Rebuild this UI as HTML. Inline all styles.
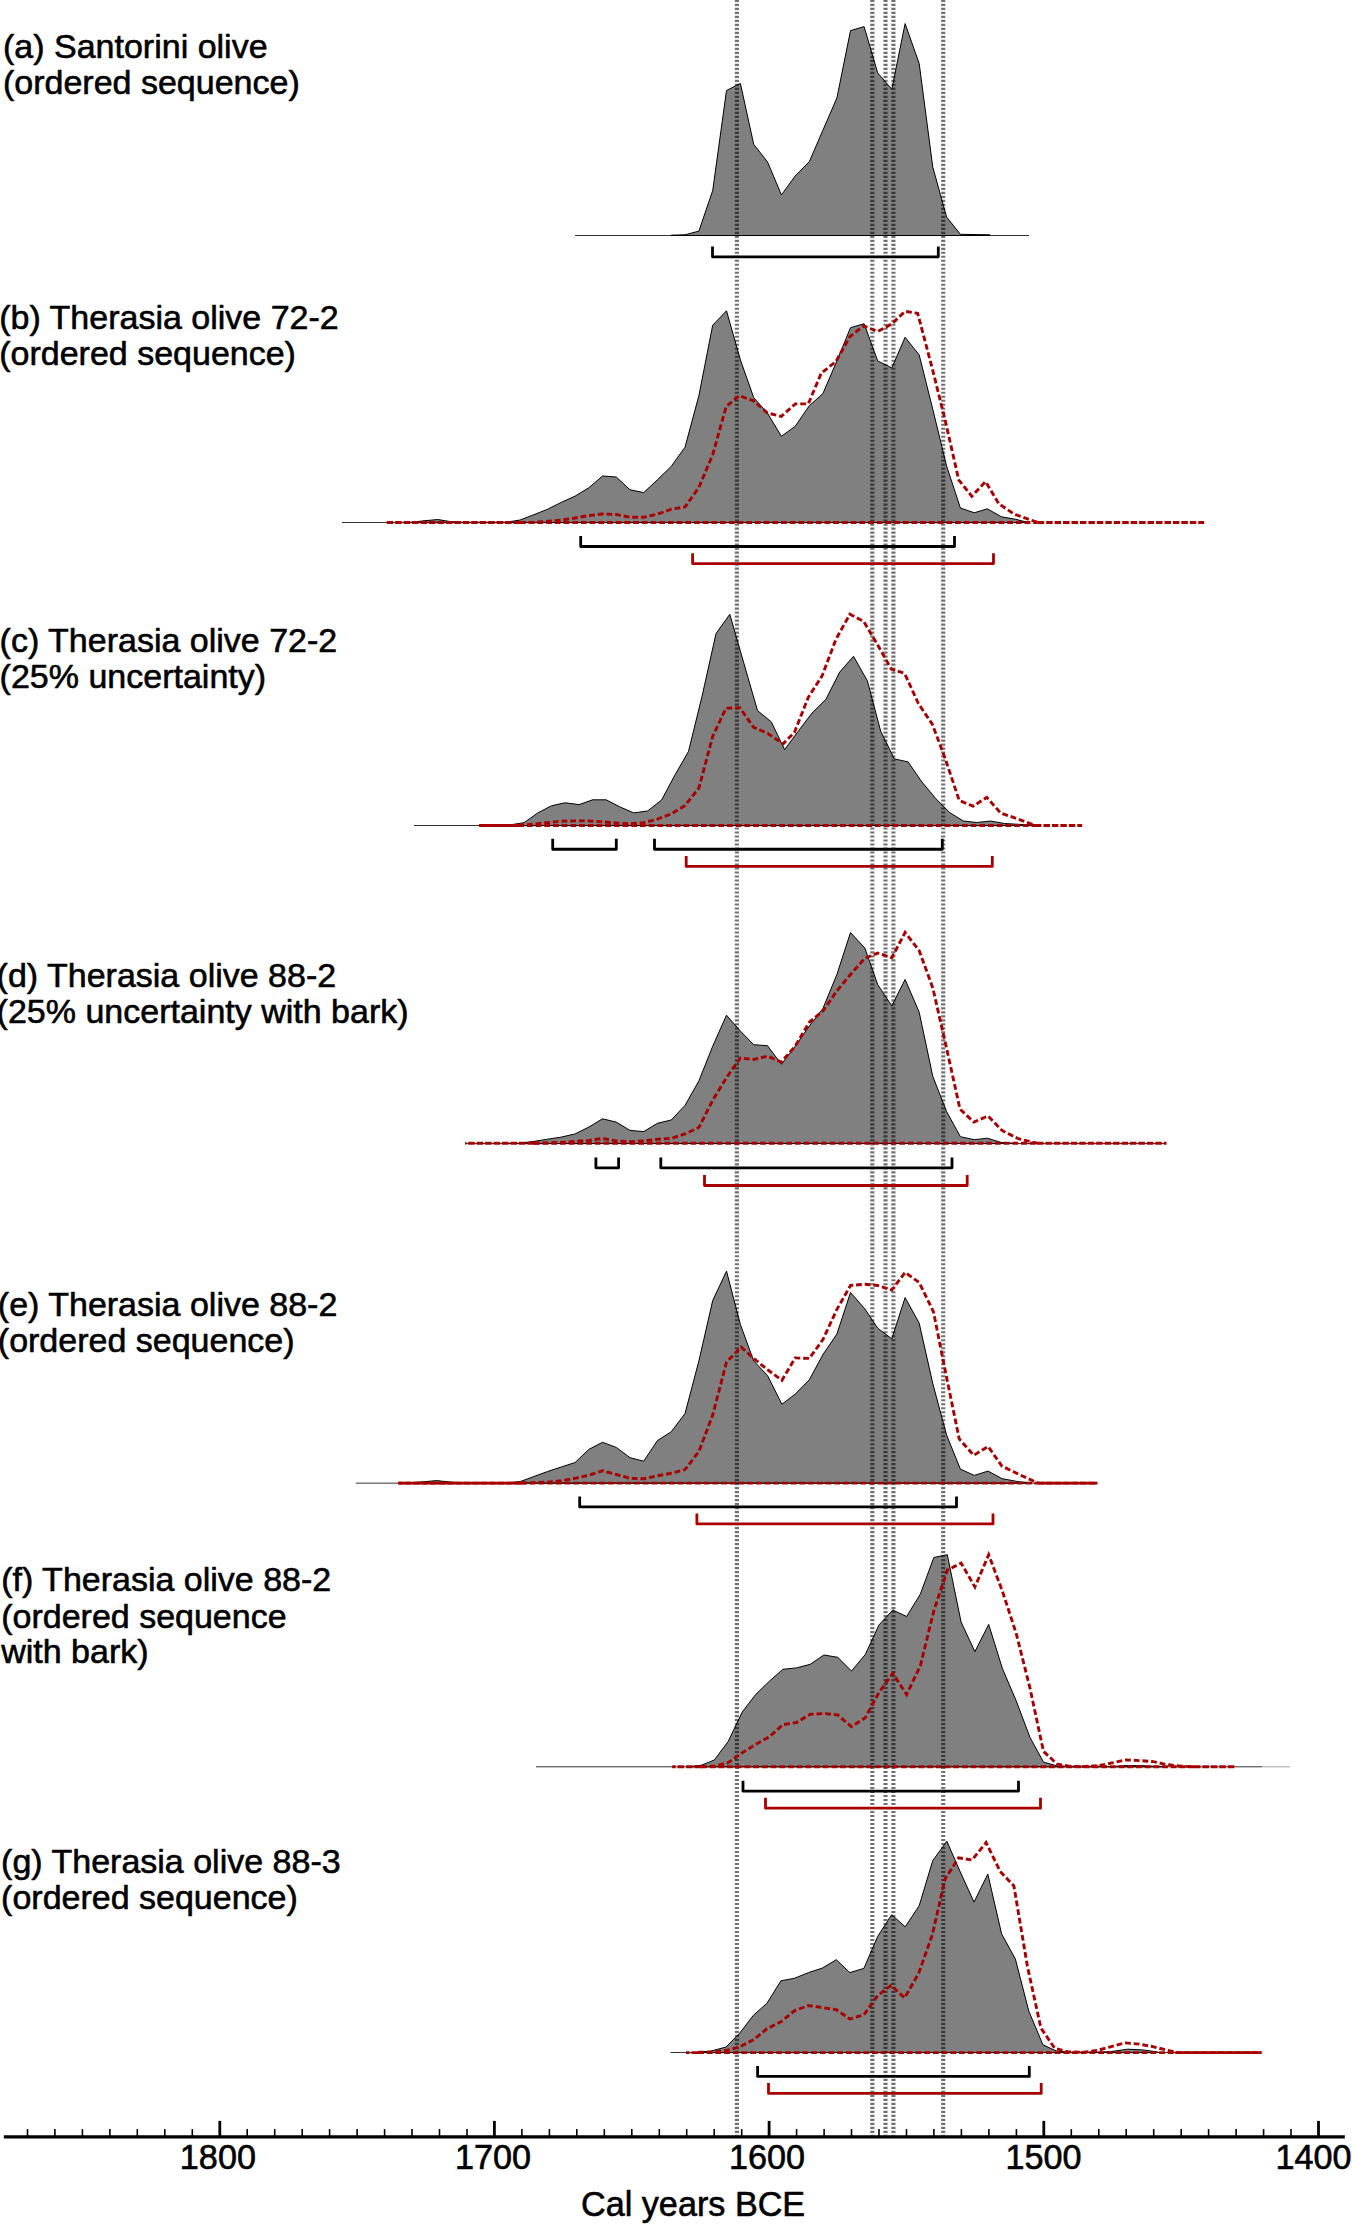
<!DOCTYPE html>
<html lang="en"><head><meta charset="utf-8"><title>Calibrated date ranges</title>
<style>html,body{margin:0;padding:0;background:#fff}body{width:1352px;height:2224px;overflow:hidden}svg{display:block}</style>
</head><body>
<svg width="1352" height="2224" viewBox="0 0 1352 2224">
<rect width="1352" height="2224" fill="#fff"/>
<polygon points="671.2,235.5 671.2,235.2 685.0,234.8 698.9,231.1 712.7,190.6 726.5,90.5 740.4,83.4 753.7,144.3 767.5,161.9 781.4,194.9 795.2,176.0 809.3,161.7 822.9,130.2 836.9,98.0 850.5,30.6 864.1,26.6 877.7,72.9 891.8,89.2 905.1,23.6 919.2,63.6 932.8,167.2 946.6,217.0 960.4,234.3 990.0,234.8 990.0,235.5" fill="#808080" stroke="#000" stroke-width="1" stroke-linejoin="miter"/>
<line x1="575" y1="235.5" x2="1029" y2="235.5" stroke="#000" stroke-width="0.8"/>
<polyline points="712.5,246.40 712.5,256.80 938.3,256.80 938.3,246.40" fill="none" stroke="#000" stroke-width="2.8" stroke-linejoin="round"/>
<polygon points="410.0,522.5 410.0,522.4 424.0,520.8 437.8,519.5 451.5,521.8 465.0,522.4 506.4,522.2 520.1,520.0 533.9,514.7 547.6,509.2 561.3,502.4 575.1,496.1 588.8,487.8 602.5,476.0 616.3,477.0 630.0,489.8 643.7,492.6 657.4,479.8 671.2,466.4 685.0,447.2 698.9,395.6 712.7,325.2 726.5,310.8 740.4,359.9 753.7,397.6 767.5,413.2 781.4,436.3 795.2,426.3 809.3,405.7 822.9,393.6 836.9,360.9 850.5,327.7 864.1,323.7 877.7,360.9 891.8,367.9 905.1,337.3 919.2,354.9 932.8,409.4 946.6,466.0 960.4,508.0 974.3,512.8 987.3,508.8 1001.4,516.8 1015.8,519.3 1027.0,522.2 1027.0,522.5" fill="#808080" stroke="#000" stroke-width="1" stroke-linejoin="miter"/>
<line x1="342" y1="522.5" x2="1029" y2="522.5" stroke="#000" stroke-width="0.8"/>
<polyline points="580.7,536.10 580.7,546.50 954.5,546.50 954.5,536.10" fill="none" stroke="#000" stroke-width="2.8" stroke-linejoin="round"/>
<polygon points="500.0,825.5 500.0,825.3 509.9,824.9 524.0,822.7 537.8,812.9 551.4,805.8 565.0,802.8 579.1,804.6 592.7,799.8 606.2,799.8 620.3,807.1 633.9,812.9 647.7,810.9 661.6,800.0 674.6,775.6 688.5,751.4 702.1,696.0 716.0,633.6 729.8,614.3 743.6,662.3 757.5,710.6 771.3,721.9 784.6,749.6 798.2,731.2 812.0,713.1 825.9,699.3 839.7,672.1 853.5,656.3 867.4,680.9 880.7,731.2 894.3,758.9 908.1,761.9 921.9,782.0 935.8,798.6 949.6,812.5 963.4,821.0 976.8,822.5 990.6,821.0 1004.4,823.5 1018.3,824.3 1035.0,825.2 1035.0,825.5" fill="#808080" stroke="#000" stroke-width="1" stroke-linejoin="miter"/>
<line x1="414" y1="825.5" x2="1040" y2="825.5" stroke="#000" stroke-width="0.8"/>
<polyline points="552.7,838.87 552.7,849.27 616.3,849.27 616.3,838.87" fill="none" stroke="#000" stroke-width="2.8" stroke-linejoin="round"/>
<polyline points="654.5,838.87 654.5,849.27 942.3,849.27 942.3,838.87" fill="none" stroke="#000" stroke-width="2.8" stroke-linejoin="round"/>
<polygon points="506.0,1143.5 506.0,1143.4 520.1,1143.2 533.9,1141.4 547.6,1139.2 561.3,1137.1 575.1,1133.9 588.8,1127.1 602.5,1118.8 616.3,1122.1 630.0,1130.4 643.7,1131.6 657.4,1123.3 671.2,1120.0 685.0,1105.4 698.9,1080.9 712.7,1046.2 726.5,1015.2 740.4,1031.1 753.7,1044.7 767.5,1045.7 781.4,1064.3 795.2,1046.2 809.3,1026.1 822.9,1008.5 836.9,974.5 850.5,932.5 864.9,948.1 877.7,984.6 891.8,1005.9 905.1,979.5 919.2,1012.2 932.8,1076.4 946.6,1111.6 960.4,1136.7 974.3,1139.7 987.3,1138.2 1001.4,1142.5 1015.0,1143.3 1015.0,1143.5" fill="#808080" stroke="#000" stroke-width="1" stroke-linejoin="miter"/>
<line x1="465.2" y1="1143.5" x2="1166" y2="1143.5" stroke="#000" stroke-width="0.8"/>
<polyline points="595.9,1157.45 595.9,1167.85 618.6,1167.85 618.6,1157.45" fill="none" stroke="#000" stroke-width="2.8" stroke-linejoin="round"/>
<polyline points="660.8,1157.45 660.8,1167.85 952.0,1167.85 952.0,1157.45" fill="none" stroke="#000" stroke-width="2.8" stroke-linejoin="round"/>
<polygon points="410.0,1483.2 410.0,1482.9 423.0,1481.8 436.8,1480.6 450.5,1482.1 464.0,1482.9 506.4,1482.9 520.1,1481.6 533.9,1476.5 547.6,1471.5 561.3,1467.0 575.1,1462.5 588.8,1449.4 602.5,1442.3 616.3,1447.4 630.0,1457.7 643.7,1461.2 657.4,1440.6 671.2,1431.8 685.0,1413.6 698.9,1360.9 712.7,1300.6 726.5,1271.1 740.4,1324.5 753.7,1360.9 767.5,1375.5 781.9,1404.2 795.2,1394.1 809.3,1379.8 822.9,1354.6 836.9,1334.0 850.5,1292.5 864.9,1308.9 877.7,1328.2 891.8,1338.8 905.1,1297.6 919.2,1323.2 932.8,1383.6 946.6,1435.1 960.4,1469.1 974.3,1475.4 988.1,1471.1 1001.9,1478.6 1018.3,1481.7 1032.0,1482.9 1032.0,1483.2" fill="#808080" stroke="#000" stroke-width="1" stroke-linejoin="miter"/>
<line x1="355.7" y1="1483.15" x2="1040" y2="1483.15" stroke="#000" stroke-width="0.8"/>
<polyline points="579.7,1496.55 579.7,1506.95 956.5,1506.95 956.5,1496.55" fill="none" stroke="#000" stroke-width="2.8" stroke-linejoin="round"/>
<polygon points="690.0,1766.8 690.0,1766.6 701.4,1765.2 714.3,1760.0 728.1,1741.6 742.2,1712.1 755.7,1694.4 769.4,1681.2 782.9,1669.3 796.4,1667.9 810.2,1664.3 823.9,1655.0 837.7,1657.3 851.5,1671.0 865.3,1654.5 879.0,1624.9 892.8,1610.0 906.6,1616.5 920.4,1594.0 933.8,1557.5 947.3,1554.7 961.1,1622.1 974.9,1651.6 988.7,1624.4 1002.4,1668.5 1016.2,1700.8 1030.0,1737.4 1043.5,1762.1 1057.2,1766.0 1071.0,1766.6 1112.0,1766.5 1126.0,1765.6 1140.0,1765.6 1154.0,1766.3 1167.0,1766.6 1167.0,1766.8" fill="#808080" stroke="#000" stroke-width="1" stroke-linejoin="miter"/>
<line x1="536.0" y1="1766.8" x2="1262" y2="1766.8" stroke="#000" stroke-width="0.8"/>
<line x1="1262" y1="1766.8" x2="1290" y2="1766.8" stroke="#000" stroke-opacity="0.45" stroke-width="0.8"/>
<polyline points="743.0,1780.67 743.0,1791.07 1018.5,1791.07 1018.5,1780.67" fill="none" stroke="#000" stroke-width="2.8" stroke-linejoin="round"/>
<polygon points="698.0,2052.5 698.0,2052.2 711.2,2051.0 725.9,2047.1 739.3,2033.6 753.4,2015.3 766.9,2003.3 780.9,1980.8 794.7,1978.2 808.5,1972.6 822.3,1968.1 836.3,1959.7 849.8,1972.6 863.9,1968.4 877.6,1936.6 891.7,1914.7 905.2,1926.8 919.2,1905.7 932.7,1860.8 946.8,1841.1 960.3,1872.0 974.0,1902.1 987.8,1874.0 1001.6,1933.8 1015.4,1959.1 1028.8,2011.1 1042.9,2044.8 1056.4,2051.0 1070.0,2052.2 1098.0,2052.2 1111.3,2051.5 1127.7,2049.2 1142.8,2049.9 1157.9,2052.0 1157.9,2052.5" fill="#808080" stroke="#000" stroke-width="1" stroke-linejoin="miter"/>
<line x1="670.4" y1="2052.5" x2="1200" y2="2052.5" stroke="#000" stroke-width="0.8"/>
<polyline points="757.6,2066.02 757.6,2076.42 1029.3,2076.42 1029.3,2066.02" fill="none" stroke="#000" stroke-width="2.8" stroke-linejoin="round"/>
<line x1="736.9" y1="-0.15" x2="736.9" y2="2135.5" stroke="#000" stroke-opacity="0.56" stroke-width="4.15" stroke-dasharray="2.15 1.848"/>
<line x1="872.3" y1="-0.15" x2="872.3" y2="2135.5" stroke="#000" stroke-opacity="0.56" stroke-width="4.15" stroke-dasharray="2.15 1.848"/>
<line x1="885.5" y1="-0.15" x2="885.5" y2="2135.5" stroke="#000" stroke-opacity="0.56" stroke-width="4.15" stroke-dasharray="2.15 1.848"/>
<line x1="893.4" y1="-0.15" x2="893.4" y2="2135.5" stroke="#000" stroke-opacity="0.56" stroke-width="4.15" stroke-dasharray="2.15 1.848"/>
<line x1="943.2" y1="-0.15" x2="943.2" y2="2135.5" stroke="#000" stroke-opacity="0.56" stroke-width="4.15" stroke-dasharray="2.15 1.848"/>
<polyline points="520.0,522.5 533.9,522.3 547.6,521.3 561.3,520.0 575.1,518.0 588.8,515.5 602.5,514.0 616.3,514.5 630.0,517.2 643.7,517.2 657.4,514.2 671.2,509.2 685.0,507.0 698.9,487.4 712.7,454.7 726.2,406.5 739.4,395.7 753.2,400.6 767.3,412.9 781.2,416.5 795.3,403.9 808.3,403.9 821.3,373.1 835.9,361.6 850.0,336.5 863.5,325.9 877.7,331.5 891.8,323.9 905.1,311.3 917.7,313.4 932.8,370.5 945.3,420.8 958.7,479.9 971.8,496.2 985.6,481.6 998.9,503.8 1014.5,514.3 1037.7,522.4" fill="none" stroke="#a80000" stroke-width="2.9" stroke-dasharray="5.8 2.9" stroke-linejoin="miter"/>
<line x1="520" y1="522.5" x2="1037.7" y2="522.5" stroke="#a80000" stroke-width="2.9" stroke-dasharray="5.8 2.9"/>
<line x1="520" y1="522.5" x2="384.8" y2="522.5" stroke="#a80000" stroke-width="2.9" stroke-dasharray="6.5 1.95"/>
<line x1="1037.7" y1="522.5" x2="1204.2" y2="522.5" stroke="#a80000" stroke-width="2.9" stroke-dasharray="6.5 1.95"/>
<polyline points="692.6,553.15 692.6,563.55 993.5,563.55 993.5,553.15" fill="none" stroke="#a80000" stroke-width="2.8" stroke-linejoin="round"/>
<polyline points="518.2,825.2 532.8,824.2 546.6,822.7 560.5,821.2 574.3,820.9 588.1,820.9 602.0,821.7 615.8,822.9 629.6,823.9 643.5,822.7 657.3,819.2 671.1,813.9 685.0,805.6 698.9,788.0 712.7,736.4 726.0,708.1 739.9,707.8 753.7,727.4 767.5,733.2 783.1,743.8 794.4,732.5 808.3,697.3 822.1,675.9 835.9,639.4 849.8,614.3 863.6,621.3 877.4,644.4 891.3,669.1 904.6,673.4 918.4,703.6 932.3,724.2 945.3,758.9 959.2,800.4 973.0,806.2 986.8,797.4 1000.7,813.0 1018.3,819.2 1035.0,825.2" fill="none" stroke="#a80000" stroke-width="2.9" stroke-dasharray="5.8 2.9" stroke-linejoin="miter"/>
<line x1="518.2" y1="825.5" x2="1035" y2="825.5" stroke="#a80000" stroke-width="2.9" stroke-dasharray="5.8 2.9"/>
<line x1="518.2" y1="825.5" x2="479.2" y2="825.5" stroke="#a80000" stroke-width="2.9" stroke-dasharray="6.5 1.95"/>
<line x1="1035" y1="825.5" x2="1082.2" y2="825.5" stroke="#a80000" stroke-width="2.9" stroke-dasharray="6.5 1.95"/>
<line x1="479.2" y1="825.5" x2="518.2" y2="825.5" stroke="#a80000" stroke-width="2.9"/>
<polyline points="686.2,856.00 686.2,866.40 992.3,866.40 992.3,856.00" fill="none" stroke="#a80000" stroke-width="2.8" stroke-linejoin="round"/>
<polyline points="533.9,1143.2 547.6,1142.9 561.3,1142.4 575.1,1141.4 588.8,1140.4 602.5,1138.4 616.3,1140.9 630.0,1141.7 643.7,1140.9 657.4,1139.2 671.2,1138.4 685.0,1134.0 698.9,1127.5 712.7,1100.3 726.5,1077.6 740.4,1058.0 753.7,1059.5 767.5,1056.2 781.4,1062.0 795.2,1046.2 809.3,1022.3 822.9,1011.0 836.9,990.9 850.5,974.5 864.9,958.2 877.7,953.1 891.8,957.7 905.1,932.5 919.2,950.6 932.8,987.9 946.1,1046.2 960.0,1109.1 973.8,1122.1 988.1,1115.9 1001.9,1130.4 1018.3,1138.7 1037.0,1143.2" fill="none" stroke="#a80000" stroke-width="2.9" stroke-dasharray="5.8 2.9" stroke-linejoin="miter"/>
<line x1="533.9" y1="1143.2" x2="1037" y2="1143.2" stroke="#a80000" stroke-width="2.9" stroke-dasharray="5.8 2.9"/>
<line x1="533.9" y1="1143.2" x2="465.2" y2="1143.2" stroke="#a80000" stroke-width="2.9" stroke-dasharray="6.5 1.95"/>
<line x1="1037" y1="1143.2" x2="1166.5" y2="1143.2" stroke="#a80000" stroke-width="2.9" stroke-dasharray="6.5 1.95"/>
<polyline points="704.5,1175.10 704.5,1185.50 967.2,1185.50 967.2,1175.10" fill="none" stroke="#a80000" stroke-width="2.8" stroke-linejoin="round"/>
<polyline points="521.0,1483.0 533.9,1482.6 547.6,1482.1 561.3,1480.8 575.1,1478.3 588.8,1475.3 602.5,1470.8 616.3,1474.5 630.0,1478.3 643.7,1478.8 657.4,1475.8 671.2,1473.3 685.0,1469.6 698.9,1451.5 712.7,1415.0 726.5,1362.2 741.1,1347.1 753.7,1358.4 767.5,1369.7 781.9,1380.3 795.2,1357.9 809.3,1358.4 822.9,1339.6 836.9,1309.4 850.5,1285.5 864.9,1284.2 877.7,1285.5 891.8,1290.0 905.1,1272.4 919.2,1282.5 933.5,1311.9 945.3,1371.0 959.2,1438.9 973.8,1455.3 988.1,1446.5 1001.9,1466.1 1018.3,1474.1 1037.7,1482.9" fill="none" stroke="#a80000" stroke-width="2.9" stroke-dasharray="5.8 2.9" stroke-linejoin="miter"/>
<line x1="521" y1="1483.15" x2="1037.7" y2="1483.15" stroke="#a80000" stroke-width="2.9" stroke-dasharray="5.8 2.9"/>
<line x1="521" y1="1483.15" x2="398.3" y2="1483.15" stroke="#a80000" stroke-width="2.9" stroke-dasharray="6.5 1.95"/>
<line x1="1037.7" y1="1483.15" x2="1097.3" y2="1483.15" stroke="#a80000" stroke-width="2.9" stroke-dasharray="6.5 1.95"/>
<line x1="398.3" y1="1483.15" x2="521" y2="1483.15" stroke="#a80000" stroke-width="2.9"/>
<line x1="1037.7" y1="1483.15" x2="1097.3" y2="1483.15" stroke="#a80000" stroke-width="2.9"/>
<polyline points="696.9,1513.55 696.9,1523.95 993.0,1523.95 993.0,1513.55" fill="none" stroke="#a80000" stroke-width="2.8" stroke-linejoin="round"/>
<polyline points="701.0,1766.7 714.6,1766.0 728.1,1762.7 742.2,1752.8 755.7,1744.4 769.4,1736.8 782.9,1724.7 796.4,1722.5 810.2,1714.3 823.9,1713.5 837.7,1714.9 851.5,1726.7 865.3,1717.7 879.0,1692.4 892.8,1673.3 906.6,1694.6 920.4,1665.7 933.8,1610.9 947.3,1570.1 961.1,1563.1 974.9,1587.0 988.7,1554.7 1002.4,1591.2 1016.2,1633.4 1030.0,1688.2 1043.5,1751.4 1057.2,1764.1 1071.0,1766.4 1084.7,1766.4 1098.4,1765.7 1112.1,1762.9 1125.9,1759.9 1139.6,1760.6 1153.3,1761.6 1167.1,1764.7 1180.8,1766.2 1194.0,1766.7" fill="none" stroke="#a80000" stroke-width="2.9" stroke-dasharray="5.8 2.9" stroke-linejoin="miter"/>
<line x1="701" y1="1766.8" x2="1194" y2="1766.8" stroke="#a80000" stroke-width="2.9" stroke-dasharray="5.8 2.9"/>
<line x1="701" y1="1766.8" x2="672.2" y2="1766.8" stroke="#a80000" stroke-width="2.9" stroke-dasharray="6.5 1.95"/>
<line x1="1194" y1="1766.8" x2="1235.8" y2="1766.8" stroke="#a80000" stroke-width="2.9" stroke-dasharray="6.5 1.95"/>
<polyline points="765.5,1797.80 765.5,1808.20 1040.5,1808.20 1040.5,1797.80" fill="none" stroke="#a80000" stroke-width="2.8" stroke-linejoin="round"/>
<polyline points="698.0,2052.3 711.2,2052.0 725.9,2050.5 739.3,2047.1 753.4,2039.8 766.9,2028.8 780.9,2021.8 794.7,2010.6 808.5,2005.5 822.3,2007.5 836.3,2009.7 849.8,2019.0 863.9,2014.8 877.6,1995.7 891.1,1985.3 904.6,1997.9 918.7,1973.2 932.2,1935.2 945.1,1879.0 958.6,1857.9 972.1,1859.9 986.1,1842.5 1000.2,1871.4 1013.9,1886.0 1027.4,1966.2 1040.9,2028.0 1054.7,2048.2 1068.2,2051.9 1083.7,2052.2 1097.5,2050.4 1111.3,2046.6 1125.2,2042.9 1139.0,2044.1 1152.8,2046.6 1167.9,2050.4 1175.5,2052.3" fill="none" stroke="#a80000" stroke-width="2.9" stroke-dasharray="5.8 2.9" stroke-linejoin="miter"/>
<line x1="698" y1="2052.6" x2="1175.5" y2="2052.6" stroke="#a80000" stroke-width="2.9" stroke-dasharray="5.8 2.9"/>
<line x1="698" y1="2052.6" x2="686.0" y2="2052.6" stroke="#a80000" stroke-width="2.9" stroke-dasharray="6.5 1.95"/>
<line x1="1175.5" y1="2052.6" x2="1261.5" y2="2052.6" stroke="#a80000" stroke-width="2.9" stroke-dasharray="6.5 1.95"/>
<line x1="1175.5" y1="2052.6" x2="1261.5" y2="2052.6" stroke="#a80000" stroke-width="2.9"/>
<polyline points="768.5,2083.00 768.5,2093.40 1041.2,2093.40 1041.2,2083.00" fill="none" stroke="#a80000" stroke-width="2.8" stroke-linejoin="round"/>
<line x1="3.8" y1="2136.85" x2="1344.8" y2="2136.85" stroke="#000" stroke-width="3.3"/>
<line x1="27.5" y1="2129.1" x2="27.5" y2="2136.85" stroke="#000" stroke-width="1.6"/>
<line x1="54.9" y1="2129.1" x2="54.9" y2="2136.85" stroke="#000" stroke-width="1.6"/>
<line x1="82.4" y1="2129.1" x2="82.4" y2="2136.85" stroke="#000" stroke-width="1.6"/>
<line x1="109.9" y1="2129.1" x2="109.9" y2="2136.85" stroke="#000" stroke-width="1.6"/>
<line x1="137.3" y1="2129.1" x2="137.3" y2="2136.85" stroke="#000" stroke-width="1.6"/>
<line x1="164.8" y1="2129.1" x2="164.8" y2="2136.85" stroke="#000" stroke-width="1.6"/>
<line x1="192.3" y1="2129.1" x2="192.3" y2="2136.85" stroke="#000" stroke-width="1.6"/>
<line x1="219.8" y1="2120.9" x2="219.8" y2="2136.85" stroke="#000" stroke-width="2.8"/>
<line x1="247.2" y1="2129.1" x2="247.2" y2="2136.85" stroke="#000" stroke-width="1.6"/>
<line x1="274.7" y1="2129.1" x2="274.7" y2="2136.85" stroke="#000" stroke-width="1.6"/>
<line x1="302.2" y1="2129.1" x2="302.2" y2="2136.85" stroke="#000" stroke-width="1.6"/>
<line x1="329.6" y1="2129.1" x2="329.6" y2="2136.85" stroke="#000" stroke-width="1.6"/>
<line x1="357.1" y1="2129.1" x2="357.1" y2="2136.85" stroke="#000" stroke-width="1.6"/>
<line x1="384.6" y1="2129.1" x2="384.6" y2="2136.85" stroke="#000" stroke-width="1.6"/>
<line x1="412.0" y1="2129.1" x2="412.0" y2="2136.85" stroke="#000" stroke-width="1.6"/>
<line x1="439.5" y1="2129.1" x2="439.5" y2="2136.85" stroke="#000" stroke-width="1.6"/>
<line x1="467.0" y1="2129.1" x2="467.0" y2="2136.85" stroke="#000" stroke-width="1.6"/>
<line x1="494.4" y1="2120.9" x2="494.4" y2="2136.85" stroke="#000" stroke-width="2.8"/>
<line x1="521.9" y1="2129.1" x2="521.9" y2="2136.85" stroke="#000" stroke-width="1.6"/>
<line x1="549.4" y1="2129.1" x2="549.4" y2="2136.85" stroke="#000" stroke-width="1.6"/>
<line x1="576.8" y1="2129.1" x2="576.8" y2="2136.85" stroke="#000" stroke-width="1.6"/>
<line x1="604.3" y1="2129.1" x2="604.3" y2="2136.85" stroke="#000" stroke-width="1.6"/>
<line x1="631.8" y1="2129.1" x2="631.8" y2="2136.85" stroke="#000" stroke-width="1.6"/>
<line x1="659.3" y1="2129.1" x2="659.3" y2="2136.85" stroke="#000" stroke-width="1.6"/>
<line x1="686.7" y1="2129.1" x2="686.7" y2="2136.85" stroke="#000" stroke-width="1.6"/>
<line x1="714.2" y1="2129.1" x2="714.2" y2="2136.85" stroke="#000" stroke-width="1.6"/>
<line x1="741.7" y1="2129.1" x2="741.7" y2="2136.85" stroke="#000" stroke-width="1.6"/>
<line x1="769.1" y1="2120.9" x2="769.1" y2="2136.85" stroke="#000" stroke-width="2.8"/>
<line x1="796.6" y1="2129.1" x2="796.6" y2="2136.85" stroke="#000" stroke-width="1.6"/>
<line x1="824.1" y1="2129.1" x2="824.1" y2="2136.85" stroke="#000" stroke-width="1.6"/>
<line x1="851.5" y1="2129.1" x2="851.5" y2="2136.85" stroke="#000" stroke-width="1.6"/>
<line x1="879.0" y1="2129.1" x2="879.0" y2="2136.85" stroke="#000" stroke-width="1.6"/>
<line x1="906.5" y1="2129.1" x2="906.5" y2="2136.85" stroke="#000" stroke-width="1.6"/>
<line x1="933.9" y1="2129.1" x2="933.9" y2="2136.85" stroke="#000" stroke-width="1.6"/>
<line x1="961.4" y1="2129.1" x2="961.4" y2="2136.85" stroke="#000" stroke-width="1.6"/>
<line x1="988.9" y1="2129.1" x2="988.9" y2="2136.85" stroke="#000" stroke-width="1.6"/>
<line x1="1016.4" y1="2129.1" x2="1016.4" y2="2136.85" stroke="#000" stroke-width="1.6"/>
<line x1="1043.8" y1="2120.9" x2="1043.8" y2="2136.85" stroke="#000" stroke-width="2.8"/>
<line x1="1071.3" y1="2129.1" x2="1071.3" y2="2136.85" stroke="#000" stroke-width="1.6"/>
<line x1="1098.8" y1="2129.1" x2="1098.8" y2="2136.85" stroke="#000" stroke-width="1.6"/>
<line x1="1126.2" y1="2129.1" x2="1126.2" y2="2136.85" stroke="#000" stroke-width="1.6"/>
<line x1="1153.7" y1="2129.1" x2="1153.7" y2="2136.85" stroke="#000" stroke-width="1.6"/>
<line x1="1181.2" y1="2129.1" x2="1181.2" y2="2136.85" stroke="#000" stroke-width="1.6"/>
<line x1="1208.6" y1="2129.1" x2="1208.6" y2="2136.85" stroke="#000" stroke-width="1.6"/>
<line x1="1236.1" y1="2129.1" x2="1236.1" y2="2136.85" stroke="#000" stroke-width="1.6"/>
<line x1="1263.6" y1="2129.1" x2="1263.6" y2="2136.85" stroke="#000" stroke-width="1.6"/>
<line x1="1291.0" y1="2129.1" x2="1291.0" y2="2136.85" stroke="#000" stroke-width="1.6"/>
<line x1="1318.5" y1="2120.9" x2="1318.5" y2="2136.85" stroke="#000" stroke-width="2.8"/>
<g font-family="'Liberation Sans', sans-serif" font-size="34.0" fill="#000" stroke="#000" stroke-width="0.6" stroke-linejoin="round">
<text x="217.9" y="2168.6" text-anchor="middle" font-size="34.2">1800</text>
<text x="493.1" y="2168.6" text-anchor="middle" font-size="34.2">1700</text>
<text x="767.1" y="2168.6" text-anchor="middle" font-size="34.2">1600</text>
<text x="1043.5" y="2168.6" text-anchor="middle" font-size="34.2">1500</text>
<text x="1313.6" y="2168.6" text-anchor="middle" font-size="34.2">1400</text>
<text x="693.1" y="2216.2" text-anchor="middle" font-size="34.2">Cal years BCE</text>
<text x="3.0" y="57.6">(a) Santorini olive</text>
<text x="3.0" y="93.6">(ordered sequence)</text>
<text x="-0.8" y="328.8">(b) Therasia olive 72-2</text>
<text x="-0.8" y="365.0">(ordered sequence)</text>
<text x="-0.4" y="651.9">(c) Therasia olive 72-2</text>
<text x="-0.4" y="688.2">(25% uncertainty)</text>
<text x="-3.4" y="986.6">(d) Therasia olive 88-2</text>
<text x="-3.4" y="1022.9">(25% uncertainty with bark)</text>
<text x="-2.2" y="1315.5">(e) Therasia olive 88-2</text>
<text x="-2.2" y="1351.9">(ordered sequence)</text>
<text x="1.2" y="1591.2">(f) Therasia olive 88-2</text>
<text x="1.2" y="1627.6">(ordered sequence</text>
<text x="1.2" y="1663.4">with bark)</text>
<text x="1.1" y="1872.6">(g) Therasia olive 88-3</text>
<text x="1.1" y="1909.0">(ordered sequence)</text>
</g>
</svg>
</body></html>
